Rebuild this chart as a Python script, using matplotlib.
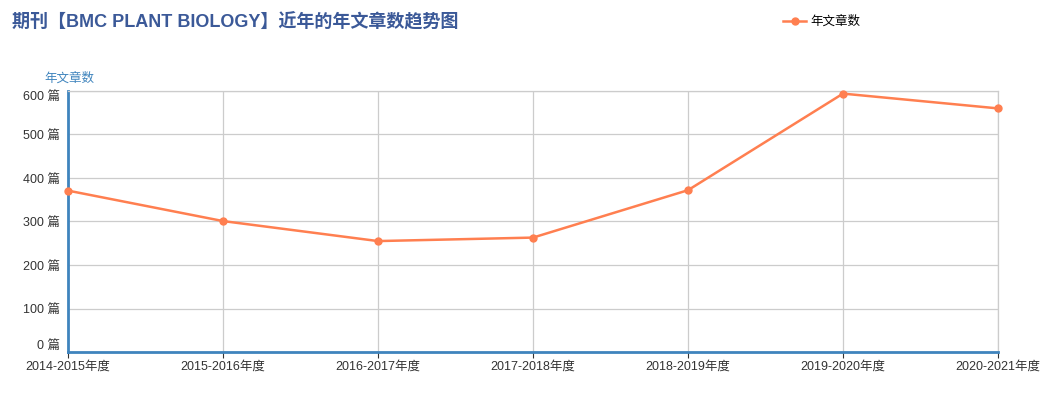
import matplotlib
matplotlib.use('Agg')
import matplotlib.pyplot as plt

plt.rcParams['font.family'] = ['Liberation Sans', 'Noto Sans CJK SC', 'DejaVu Sans']

# data
years = ['2014-2015年度', '2015-2016年度', '2016-2017年度', '2017-2018年度',
         '2018-2019年度', '2019-2020年度', '2020-2021年度']
counts = [371, 301, 255, 263, 372, 594, 560]
y_ticks = [0, 100, 200, 300, 400, 500, 600]

blue = '#3f84bd'
fig = plt.figure(figsize=(10.45, 3.93), dpi=100)
ax = fig.add_axes([68 / 1045, 1 - 352 / 393, 930 / 1045, 261 / 393])

x = list(range(len(years)))
ax.plot(x, counts, color='#ff7f50', lw=1.8, marker='o', ms=5, label='年文章数',
        clip_on=False, zorder=3)

ax.set_xlim(0, len(years) - 1)
ax.set_ylim(0, 600)
ax.set_xticks(x)
ax.set_xticklabels(years, fontsize=9, color='#333333')
ax.set_yticks(y_ticks)
ax.set_yticklabels([f'{v} 篇' for v in y_ticks], fontsize=9, color='#333333')
ax.get_yticklabels()[0].set_verticalalignment('bottom')
ax.get_yticklabels()[-1].set_verticalalignment('top')
ax.tick_params(axis='y', length=0, pad=6)
ax.tick_params(axis='x', length=4, color='#333333', pad=2)

ax.grid(True, color='#cccccc', lw=0.9)
ax.set_axisbelow(True)
for s in ['top', 'right']:
    ax.spines[s].set_color('#cccccc')
    ax.spines[s].set_linewidth(0.9)
for s in ['left', 'bottom']:
    ax.spines[s].set_color(blue)
    ax.spines[s].set_linewidth(2)

fig.text(44 / 1045, 1 - 79 / 393, '年文章数', fontsize=9, color=blue, va='center')
fig.text(12 / 1045, 1 - 22 / 393, '期刊【BMC PLANT BIOLOGY】近年的年文章数趋势图',
         fontsize=13, fontweight='bold', color='#3b5998', va='center')

fig.legend(loc='center left', bbox_to_anchor=(777 / 1045, 1 - 22 / 393), frameon=False,
           fontsize=9, handlelength=1.8, handletextpad=0.4, borderpad=0)

fig.savefig('out.png', dpi=100)
